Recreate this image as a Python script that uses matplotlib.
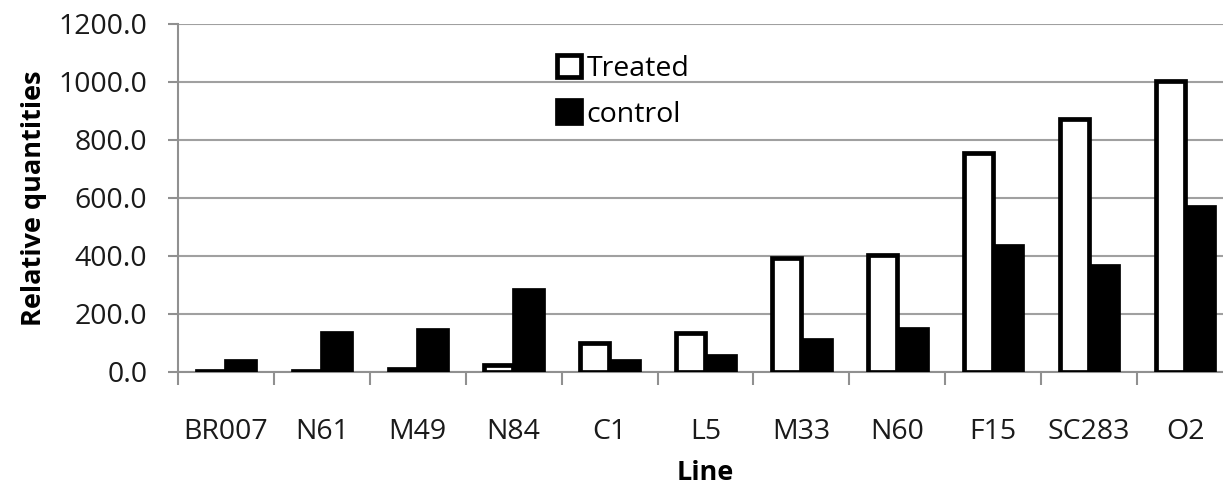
import numpy as np
import matplotlib.pyplot as plt
from matplotlib.ticker import FormatStrFormatter

plt.rcParams['font.family'] = ['Open Sans', 'DejaVu Sans']

# data
lines = ["BR007", "N61", "M49", "N84", "C1", "L5", "M33", "N60", "F15", "SC283", "O2"]
treated = [3, 4, 12, 24, 100, 136, 392, 404, 755, 872, 1002]
control = [38, 134, 145, 282, 37, 54, 109, 150, 433, 367, 568]

fig = plt.figure(figsize=(12.23, 4.88), dpi=100)
W, H = 1223.0, 488.0
ax = fig.add_axes([178 / W, (H - 372) / H, (1233 - 178) / W, 348 / H])

x = np.arange(len(lines))
bw = 0.3
ax.bar(x - 0.155, treated, bw, color="white", edgecolor="black", linewidth=3.4,
       label="Treated", zorder=3)
ax.bar(x + 0.155, control, bw, color="black", edgecolor="black", linewidth=3.4,
       label="control", zorder=3)

ax.set_xlim(-0.5, len(lines) - 0.5)
ax.set_ylim(0, 1200)
ax.set_yticks(np.arange(0, 1201, 200))
ax.yaxis.set_major_formatter(FormatStrFormatter("%.1f"))
ax.set_xticks(x)
ax.set_xticklabels(lines)
ax.set_xticks(np.arange(-0.5, len(lines), 1), minor=True)

ax.grid(axis="y", color="#a0a0a0", linewidth=1.5, zorder=0)
for s in ["top", "right"]:
    ax.spines[s].set_visible(False)
for s in ["left", "bottom"]:
    ax.spines[s].set_color("#909090")
    ax.spines[s].set_linewidth(1.5)

ax.tick_params(axis="x", which="major", length=0, labelsize=20.5, pad=33, colors="#1a1a1a")
ax.tick_params(axis="x", which="minor", length=9, width=1.5, color="#909090")
ax.tick_params(axis="y", length=7, width=1.5, color="#909090", labelsize=20.5,
               labelcolor="#1a1a1a", pad=15)

ax.set_ylabel("Relative quantities", fontsize=19.5, fontweight="bold", labelpad=8)
ax.set_xlabel("Line", fontsize=19.5, fontweight="bold", labelpad=10)

ax.legend(loc="upper left", bbox_to_anchor=(0.348, 0.945), frameon=False, fontsize=20.5,
          handlelength=0.85, handleheight=0.85, handletextpad=0.2, labelspacing=0.62,
          borderaxespad=0)

plt.savefig("out.png", dpi=100)
